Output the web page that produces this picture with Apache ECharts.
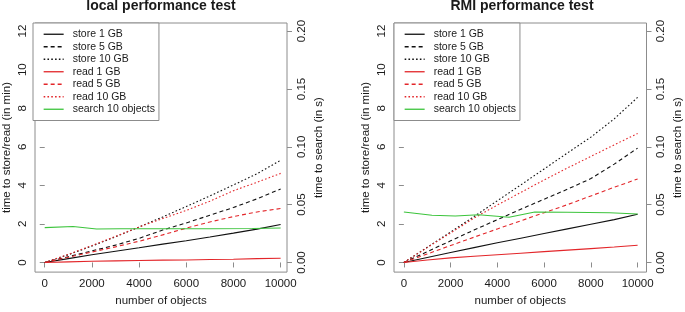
<!DOCTYPE html>
<html>
<head>
<meta charset="utf-8">
<script src="https://cdn.jsdelivr.net/npm/echarts@6/dist/echarts.min.js"></script>
<style>
  html, body { margin: 0; padding: 0; background: #fff; }
  #chart { width: 685px; height: 312px; }
</style>
</head>
<body>
<div id="chart"></div>
<script>
// number of objects (x values of store/read series)
const objects = [0, 1000, 2000, 3000, 4000, 5000, 6000, 7000, 8000, 9000, 10000];
// x values of the search series
const searchObjects = [0, 1200, 2200, 3200, 4500, 5600, 7000, 8800, 10000];

// local performance test, time in min
const localStore1 = [0, 0.2, 0.4, 0.58, 0.76, 0.95, 1.13, 1.32, 1.52, 1.73, 1.97];
const localStore5 = [0, 0.3, 0.6, 0.9, 1.25, 1.68, 2.05, 2.45, 2.85, 3.3, 3.81];
const localStore10 = [0, 0.4, 0.85, 1.33, 1.84, 2.36, 2.9, 3.45, 4.02, 4.6, 5.3];
const localRead1 = [0, 0.03, 0.06, 0.08, 0.1, 0.12, 0.13, 0.15, 0.17, 0.2, 0.22];
const localRead5 = [0, 0.27, 0.54, 0.81, 1.1, 1.43, 1.78, 2.1, 2.38, 2.62, 2.8];
const localRead10 = [0, 0.42, 0.88, 1.35, 1.84, 2.28, 2.7, 3.18, 3.72, 4.16, 4.62];
// time in s
const localSearch = [0.0301, 0.0311, 0.0289, 0.0291, 0.0292, 0.0292, 0.0292, 0.0294, 0.0298];

// RMI performance test, time in min
const rmiStore1 = [0, 0.26, 0.52, 0.77, 1.02, 1.26, 1.5, 1.74, 1.98, 2.22, 2.5];
const rmiStore5 = [0, 0.56, 1.12, 1.68, 2.22, 2.76, 3.28, 3.8, 4.35, 5.1, 5.93];
const rmiStore10 = [0, 0.79, 1.58, 2.38, 3.2, 4.02, 4.85, 5.68, 6.5, 7.45, 8.56];
const rmiRead1 = [0, 0.13, 0.24, 0.32, 0.4, 0.48, 0.56, 0.64, 0.72, 0.8, 0.89];
const rmiRead5 = [0, 0.44, 0.88, 1.31, 1.74, 2.16, 2.58, 3.0, 3.45, 3.9, 4.33];
const rmiRead10 = [0, 0.77, 1.53, 2.3, 2.98, 3.63, 4.28, 4.9, 5.5, 6.1, 6.69];
// time in s
const rmiSearch = [0.0436, 0.0408, 0.0402, 0.0413, 0.0391, 0.0436, 0.0434, 0.043, 0.0419];

const titles = ['local performance test', 'RMI performance test'];
const xTicks = [0, 2000, 4000, 6000, 8000, 10000];
const minTicks = [0, 2, 4, 6, 8, 10, 12];
const secTicks = [0, 0.05, 0.1, 0.15, 0.2];
const names = ['store 1 GB', 'store 5 GB', 'store 10 GB', 'read 1 GB', 'read 5 GB', 'read 10 GB', 'search 10 objects'];

const font = 'Liberation Sans, Arial, Helvetica, sans-serif';
const textColor = '#1a1a1a';
const boxColor = '#8c8c8c';
const black = '#111111';
const red = '#e3262a';
const green = '#3cc43c';
const dashed = [4, 3];
const dotted = [1.6, 2.2];

function pairs(xs, ys) {
  return xs.map((x, i) => [x, ys[i]]);
}

const panels = [
  { left: 33, width: 254, xmin: -412, xmax: 10270, center: 161,
    data: [localStore1, localStore5, localStore10, localRead1, localRead5, localRead10], search: localSearch },
  { left: 394, width: 256, xmin: -422, xmax: 10380, center: 522,
    data: [rmiStore1, rmiStore5, rmiStore10, rmiRead1, rmiRead5, rmiRead10], search: rmiSearch }
];

const styles = [
  [black, 'solid'], [black, dashed], [black, dotted],
  [red, 'solid'], [red, dashed], [red, dotted]
];

const grid = [], xAxis = [], yAxis = [], series = [], legend = [], title = [];

panels.forEach((p, k) => {
  grid.push({
    left: p.left, top: 23, width: p.width, height: 255,
    show: true, borderColor: boxColor, borderWidth: 1, backgroundColor: '#fff'
  });
  title.push({
    text: titles[k], left: p.center, top: -1, textAlign: 'center', padding: 0,
    textStyle: { fontFamily: font, fontSize: 14, fontWeight: 'bold', color: textColor }
  });
  xAxis.push({
    type: 'value', gridIndex: k, min: p.xmin, max: p.xmax,
    name: 'number of objects', nameLocation: 'middle', nameGap: 21,
    nameTextStyle: { fontFamily: font, fontSize: 11.5, color: textColor },
    axisLine: { show: false },
    axisTick: { show: true, length: 5, customValues: xTicks, lineStyle: { color: boxColor } },
    axisLabel: { customValues: xTicks, margin: 6, fontFamily: font, fontSize: 11.5, color: textColor,
      formatter: v => String(v) },
    splitLine: { show: false }
  });
  yAxis.push({
    type: 'value', gridIndex: k, position: 'left', min: -0.5, max: 12.42,
    name: 'time to store/read (in min)', nameLocation: 'middle', nameGap: 22, nameRotate: 90,
    nameTextStyle: { fontFamily: font, fontSize: 11.5, color: textColor },
    axisLine: { show: false },
    axisTick: { show: true, length: 5, customValues: minTicks, lineStyle: { color: boxColor } },
    axisLabel: { customValues: minTicks, rotate: 90, margin: 6, fontFamily: font, fontSize: 11.5, color: textColor },
    splitLine: { show: false }
  });
  yAxis.push({
    type: 'value', gridIndex: k, position: 'right', min: -0.5 / 60, max: 12.42 / 60,
    name: 'time to search (in s)', nameLocation: 'middle', nameGap: 25.5, nameRotate: 90,
    nameTextStyle: { fontFamily: font, fontSize: 11.5, color: textColor },
    axisLine: { show: false },
    axisTick: { show: true, length: 5, customValues: secTicks, lineStyle: { color: boxColor } },
    axisLabel: { customValues: secTicks, rotate: 90, margin: 8.5, fontFamily: font, fontSize: 11.5, color: textColor,
      formatter: v => v.toFixed(2) },
    splitLine: { show: false }
  });
  p.data.forEach((vals, i) => {
    series.push({
      name: names[i], type: 'line', xAxisIndex: k, yAxisIndex: 2 * k,
      data: pairs(objects, vals), symbol: 'none', silent: true, animation: false,
      lineStyle: { color: styles[i][0], type: styles[i][1], width: 1.1 },
      itemStyle: { color: styles[i][0] }
    });
  });
  series.push({
    name: names[6], type: 'line', xAxisIndex: k, yAxisIndex: 2 * k + 1,
    data: pairs(searchObjects, p.search), symbol: 'none', silent: true, animation: false,
    lineStyle: { color: green, width: 1.1 },
    itemStyle: { color: green }
  });
  legend.push({
    data: names, orient: 'vertical', left: p.left, top: 23,
    itemWidth: 20, itemHeight: 10, itemGap: 0,
    padding: [5, 4, 5, 10],
    borderColor: boxColor, borderWidth: 1, backgroundColor: '#fff',
    selectedMode: false,
    itemStyle: { opacity: 0, borderWidth: 0 },
    lineStyle: { width: 1.3 },
    textStyle: { fontFamily: font, fontSize: 10.5, color: textColor, lineHeight: 12.5, padding: [0, 0, 0, 4] }
  });
});

const chart = echarts.init(document.getElementById('chart'), null, { renderer: 'canvas' });
chart.setOption({
  animation: false,
  backgroundColor: '#fff',
  title: title,
  legend: legend,
  grid: grid,
  xAxis: xAxis,
  yAxis: yAxis,
  series: series
});
</script>
</body>
</html>
